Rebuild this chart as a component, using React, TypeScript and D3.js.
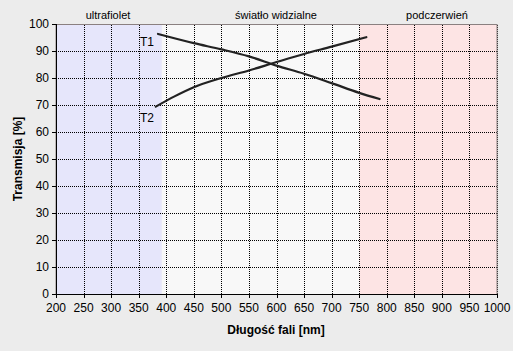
import * as d3 from "d3";

// T1 / T2 transmission curves: [wavelength nm, transmission %]
const t1Wave = [385, 450, 500, 550, 600, 650, 700, 750, 787];
const t1Vals = [96.3, 92.9, 90.6, 88.0, 84.6, 81.6, 78.1, 74.5, 72.2];
const t2Wave = [381, 415, 450, 500, 550, 600, 650, 700, 763];
const t2Vals = [69.4, 73.2, 76.6, 80.0, 82.8, 85.9, 88.9, 91.6, 95.1];

const xTicks = d3.range(200, 1001, 50);
const yTicks = d3.range(0, 101, 10);

const bands = [
  { label: "ultrafiolet", from: 200, to: 392, fill: "#e6e6fb", labelX: 108 },
  { label: "światło widzialne", from: 392, to: 750, fill: "#f8f8f8", labelX: 276 },
  { label: "podczerwień", from: 750, to: 1000, fill: "#fde4e4", labelX: 437 },
];

const W = 513;
const H = 351;
const M = { left: 56, right: 16, top: 24, bottom: 57 };
const FONT = "'Liberation Sans', Arial, sans-serif";

export default function App() {
  const x = d3.scaleLinear().domain([200, 1000]).range([M.left, W - M.right]);
  const y = d3.scaleLinear().domain([0, 100]).range([H - M.bottom, M.top]);
  const line = d3
    .line<[number, number]>()
    .x((d) => x(d[0]))
    .y((d) => y(d[1]))
    .curve(d3.curveMonotoneX);

  const t1 = t1Wave.map((w, i) => [w, t1Vals[i]] as [number, number]);
  const t2 = t2Wave.map((w, i) => [w, t2Vals[i]] as [number, number]);
  const [x0, x1] = x.range();
  const [y0, y1] = y.range();

  return (
    <svg
      width={W}
      height={H}
      style={{ position: "absolute", left: 0, top: 0, background: "#ececec" }}
      fontFamily={FONT}
    >
      {bands.map((b) => (
        <g key={b.label}>
          <rect x={x(b.from)} y={y1} width={x(b.to) - x(b.from)} height={y0 - y1} fill={b.fill} />
          <text x={b.labelX} y={19} fontSize={11} textAnchor="middle" fill="#000">
            {b.label}
          </text>
        </g>
      ))}

      {/* grid */}
      {xTicks.slice(1).map((t) => (
        <line key={"gx" + t} x1={Math.round(x(t)) + 0.5} x2={Math.round(x(t)) + 0.5} y1={y0} y2={y1} stroke="#000" strokeWidth={1} strokeDasharray="1,1" />
      ))}
      {yTicks.slice(1).map((t) => (
        <line key={"gy" + t} x1={x0} x2={x1} y1={Math.round(y(t)) + 0.5} y2={Math.round(y(t)) + 0.5} stroke="#000" strokeWidth={1} strokeDasharray="1,1" />
      ))}

      {/* frame */}
      <rect x={x0} y={y1 + 0.5} width={x1 - x0} height={y0 - y1} fill="none" stroke="#8a8080" strokeWidth={1} />
      <line x1={x0 + 0.5} x2={x0 + 0.5} y1={y1} y2={y0} stroke="#000" />
      <line x1={x0} x2={x1} y1={y0 + 0.5} y2={y0 + 0.5} stroke="#000" />

      {/* axis ticks and labels */}
      {yTicks.map((t) => (
        <g key={"ty" + t}>
          <line x1={x0 - 4} x2={x0} y1={Math.round(y(t)) + 0.5} y2={Math.round(y(t)) + 0.5} stroke="#000" />
          <text x={x0 - 7} y={y(t) + 4} fontSize={12} textAnchor="end">
            {t}
          </text>
        </g>
      ))}
      {xTicks.map((t) => (
        <g key={"tx" + t}>
          <line x1={Math.round(x(t)) + 0.5} x2={Math.round(x(t)) + 0.5} y1={y0} y2={y0 + 4} stroke="#000" />
          <text x={x(t)} y={y0 + 18} fontSize={12} textAnchor="middle">
            {t}
          </text>
        </g>
      ))}

      <text x={276} y={334} fontSize={12} fontWeight="bold" textAnchor="middle">
        Długość fali [nm]
      </text>
      <text
        transform={`translate(22, ${(y0 + y1) / 2}) rotate(-90)`}
        fontSize={12}
        fontWeight="bold"
        textAnchor="middle"
      >
        Transmisja [%]
      </text>

      {/* curves */}
      <path d={line(t1) ?? ""} fill="none" stroke="#222" strokeWidth={2.2} strokeLinecap="round" />
      <path d={line(t2) ?? ""} fill="none" stroke="#222" strokeWidth={2.2} strokeLinecap="round" />
      <text x={140} y={46} fontSize={12}>
        T1
      </text>
      <text x={140} y={122} fontSize={12}>
        T2
      </text>
    </svg>
  );
}
